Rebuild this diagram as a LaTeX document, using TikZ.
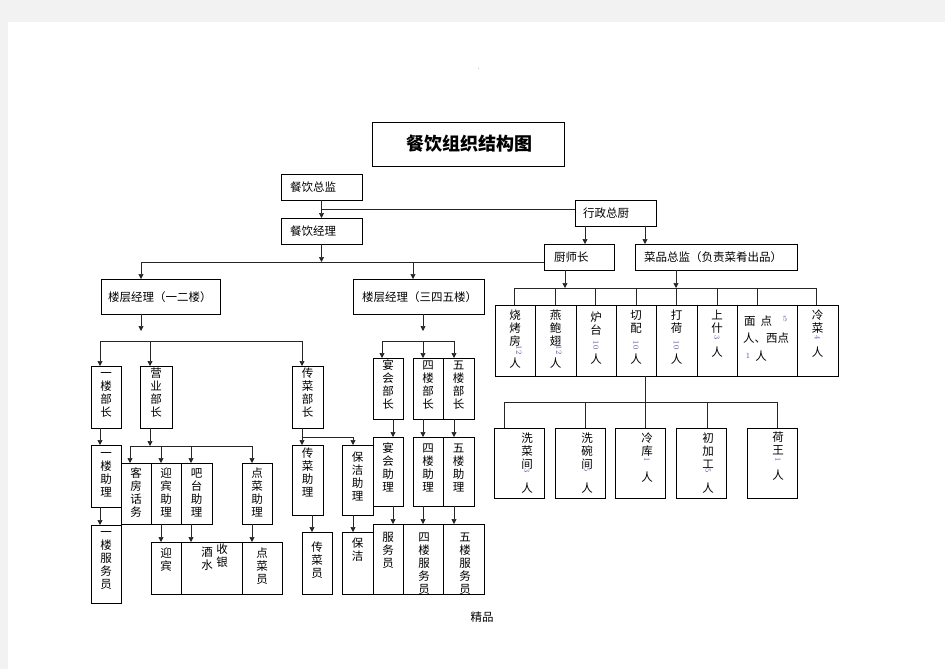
\documentclass[tikz,border=0pt]{standalone}
\usepackage{fontspec}
\newfontfamily\cjk{Noto Sans CJK SC}
\usetikzlibrary{arrows.meta}
\definecolor{pagebg}{HTML}{F2F2F2}
\definecolor{numc}{HTML}{5A50A8}
\newcommand\bx[5]{\pgfmathsetmacro\bxw{#4-#2}\pgfmathsetmacro\bxh{#5-#3}%
  \node[box,anchor=north west,minimum width=\bxw pt,minimum height=\bxh pt] (#1) at (#2,#3) {};}
\newcommand\vtx[4]{\node[vtext] (#1) at (#2,#3) {\rule{0pt}{10pt}#4};}
\newcommand\ren[3]{\node[ctext] (#1) at (#2,#3) {人};}
\newcommand\numx[4]{\node[numtext] (#1) at (#2,#3) {#4};}
\begin{document}
\begin{tikzpicture}[x=1pt,y=-1pt,
  box/.style={draw=black,line width=0.75pt,inner sep=0pt,outer sep=0pt,rectangle},
  ln/.style={line width=0.7pt,draw=black!85},
  arr/.style={line width=0.7pt,draw=black!85,-{Triangle[length=5pt,width=5pt]}},
  htext/.style={font=\cjk\fontsize{11.5}{13}\selectfont,inner sep=0pt,anchor=west},
  ctext/.style={font=\cjk\fontsize{11.5}{13}\selectfont,inner sep=0pt},
  vtext/.style={font=\cjk\fontsize{11.5}{13}\selectfont,inner sep=0pt,anchor=north,align=center},
  numtext/.style={font=\fontsize{8}{8}\selectfont,text=numc,inner sep=0pt,rotate=-90}]
\useasboundingbox (0,0) rectangle (945,669);
\fill[pagebg] (0,0) rectangle (945,669);
\fill[white] (8,22) rectangle (945,669);
\node[font=\fontsize{6}{6}\selectfont,inner sep=0pt] (dot) at (479,69) {.};

% ---------- boxes ----------
\bx{title}{372}{122}{564}{166}
\bx{zj}{281}{174}{362}{200}
\bx{jl}{281}{218}{362}{244}
\bx{xz}{575}{200}{656}{226}
\bx{csz}{544}{244}{614}{270}
\bx{cp}{635}{244}{797}{270}
\bx{lc12}{101}{279}{220}{314}
\bx{lc345}{353}{279}{484}{314}
\bx{b1}{91}{366}{121}{428}
\bx{yy}{140}{366}{172}{428}
\bx{cc}{292}{366}{323}{428}
\bx{z1}{91}{445}{121}{507}
\bx{f1}{91}{525}{121}{603}
\bx{kf}{121}{463}{151}{524}
\bx{yb}{151}{463}{181}{524}
\bx{bt}{181}{463}{212}{524}
\bx{dc}{242}{463}{272}{524}
\bx{ybb}{151}{542}{181}{594}
\bx{js}{181}{542}{242}{594}
\bx{dcy}{242}{542}{282}{594}
\bx{ccz}{292}{445}{323}{515}
\bx{ccy}{302}{532}{332}{594}
\bx{bjz}{342}{445}{373}{515}
\bx{bj}{342}{532}{373}{594}
\bx{yh}{373}{358}{403}{419}
\bx{s4}{413}{358}{443}{419}
\bx{s5}{443}{358}{474}{419}
\bx{yhz}{373}{437}{403}{506}
\bx{z4}{413}{437}{443}{506}
\bx{z5}{443}{437}{474}{506}
\bx{fw}{373}{524}{403}{594}
\bx{f4}{403}{524}{443}{594}
\bx{f5}{443}{524}{484}{594}
\bx{k1}{495}{305}{535}{376}
\bx{k2}{535}{305}{576}{376}
\bx{k3}{576}{305}{616}{376}
\bx{k4}{616}{305}{656}{376}
\bx{k5}{656}{305}{697}{376}
\bx{k6}{697}{305}{737}{376}
\bx{k7}{737}{305}{797}{376}
\bx{k8}{797}{305}{838}{376}
\bx{m1}{494}{428}{544}{498}
\bx{m2}{555}{428}{605}{498}
\bx{m3}{615}{428}{665}{498}
\bx{m4}{676}{428}{726}{498}
\bx{m5}{747}{428}{797}{498}

% ---------- horizontal labels ----------
\node[font=\cjk\bfseries\fontsize{18}{20}\selectfont,inner sep=0pt] (titlet) at (469,144) {餐饮组织结构图};
\node[htext] (zjt) at (290,187) {餐饮总监};
\node[htext] (jlt) at (290,231) {餐饮经理};
\node[htext] (xzt) at (583,213) {行政总厨};
\node[htext] (cszt) at (554,257) {厨师长};
\node[htext] (cpt) at (644,257) {菜品总监（负责菜肴出品）};
\node[htext] (lc12t) at (108,297) {楼层经理（一二楼）};
\node[htext] (lc345t) at (362,297) {楼层经理（三四五楼）};
\node[ctext] (foot) at (482,617) {精品};

% ---------- vertical labels ----------
\vtx{b1t}{106}{367}{一\\楼\\部\\长}
\vtx{yyt}{156}{367}{营\\业\\部\\长}
\vtx{cct}{307.5}{367}{传\\菜\\部\\长}
\vtx{z1t}{106}{447}{一\\楼\\助\\理}
\vtx{f1t}{106}{526}{一\\楼\\服\\务\\员}
\vtx{kft}{136}{467}{客\\房\\话\\务}
\vtx{ybt}{166}{467}{迎\\宾\\助\\理}
\vtx{btt}{196.5}{467}{吧\\台\\助\\理}
\vtx{dct}{257}{467}{点\\菜\\助\\理}
\vtx{ybbt}{166}{547}{迎\\宾}
\vtx{jst}{207}{546}{酒\\水}
\vtx{syt}{222}{543}{收\\银}
\vtx{dcyt}{262}{547}{点\\菜\\员}
\vtx{cczt}{307.5}{447}{传\\菜\\助\\理}
\vtx{ccyt}{317}{541}{传\\菜\\员}
\vtx{bjzt}{357.5}{451}{保\\洁\\助\\理}
\vtx{bjt}{357.5}{537}{保\\洁}
\vtx{yht}{388}{359}{宴\\会\\部\\长}
\vtx{s4t}{428}{359}{四\\楼\\部\\长}
\vtx{s5t}{458.5}{359}{五\\楼\\部\\长}
\vtx{yhzt}{388}{442}{宴\\会\\助\\理}
\vtx{z4t}{428}{442}{四\\楼\\助\\理}
\vtx{z5t}{458.5}{442}{五\\楼\\助\\理}
\vtx{fwt}{388}{531}{服\\务\\员}
\vtx{f4t}{424}{531}{四\\楼\\服\\务\\员}
\vtx{f5t}{465}{531}{五\\楼\\服\\务\\员}

% kitchen top
\vtx{k1t}{515}{309}{烧\\烤\\房}  \numx{k1n}{519}{350}{12} \ren{k1r}{515}{363}
\vtx{k2t}{555.5}{309}{燕\\鲍\\翅} \numx{k2n}{559}{350}{12} \ren{k2r}{555.5}{363}
\vtx{k3t}{596}{311}{炉\\台}      \numx{k3n}{596}{345}{10} \ren{k3r}{596}{359}
\vtx{k4t}{636}{309}{切\\配}      \numx{k4n}{636}{345}{10} \ren{k4r}{636}{359}
\vtx{k5t}{676.5}{309}{打\\荷}    \numx{k5n}{676.5}{345}{10} \ren{k5r}{676.5}{359}
\vtx{k6t}{717}{309}{上\\什}      \numx{k6n}{717}{338}{3} \ren{k6r}{717}{352}
\vtx{k8t}{817.5}{309}{冷\\菜}    \numx{k8n}{817.5}{338}{4} \ren{k8r}{817.5}{352}
\node[htext] (k7a) at (744,321) {面\hspace{5pt}点};
\node[font=\fontsize{8}{8}\selectfont,text=numc,inner sep=0pt] (k7n) at (785,319) {5};
\node[htext] (k7b) at (743,338) {人、西点};
\node[font=\fontsize{8}{8}\selectfont,text=numc,inner sep=0pt] (k7m) at (748,356) {1};
\node[ctext] (k7c) at (761,356) {人};

% kitchen bottom
\vtx{m1t}{527}{432}{洗\\菜\\间} \numx{m1n}{527}{471}{3} \ren{m1r}{527}{488}
\vtx{m2t}{587}{432}{洗\\碗\\间} \numx{m2n}{587}{470}{5} \ren{m2r}{587}{488}
\vtx{m3t}{647}{432}{冷\\库}     \numx{m3n}{647}{460}{1} \ren{m3r}{647}{477}
\vtx{m4t}{708}{432}{初\\加\\工} \numx{m4n}{708}{471}{5} \ren{m4r}{708}{488}
\vtx{m5t}{778}{431}{荷\\王}     \numx{m5n}{778}{460}{1} \ren{m5r}{778}{475}

% ---------- connectors ----------
% top management
\draw[arr] (zj) -- (jl);
\coordinate (j1) at (322,209);
\draw[ln] (xz.west |- j1) -- (j1);
\coordinate (xa) at (585,0);
\coordinate (xb) at (645,0);
\draw[arr] (xa |- xz.south) -- (xa |- csz.north);
\draw[arr] (xb |- xz.south) -- (xb |- cp.north);
\coordinate (busA) at (141,262);
\coordinate (busB) at (413,262);
\draw[arr] (jl.south) -- (jl.south |- busA);
\draw[ln] (busA) -- (csz.west |- busA);
\draw[arr] (busA) -- (busA |- lc12.north);
\draw[arr] (busB) -- (busB |- lc345.north);

% floors 1-2
\coordinate (l0) at (141,331);
\draw[arr] (l0 |- lc12.south) -- (l0);
\coordinate (l1) at (100,341);
\coordinate (l2) at (150,341);
\coordinate (l3) at (302,341);
\draw[ln] (l1) -- (l3);
\draw[arr] (l1) -- (l1 |- b1.north);
\draw[arr] (l2) -- (l2 |- yy.north);
\draw[arr] (l3) -- (l3 |- cc.north);
\draw[arr] (l1 |- b1.south) -- (l1 |- z1.north);
\draw[arr] (l1 |- z1.south) -- (l1 |- f1.north);
% sales
\coordinate (y1) at (130,446);
\coordinate (y2) at (161,446);
\coordinate (y3) at (191,446);
\coordinate (y4) at (252,446);
\draw[arr] (l2 |- yy.south) -- (l2 |- y1);
\draw[ln] (y1) -- (y4);
\draw[arr] (y1) -- (y1 |- kf.north);
\draw[arr] (y2) -- (y2 |- yb.north);
\draw[arr] (y3) -- (y3 |- bt.north);
\draw[arr] (y4) -- (y4 |- dc.north);
\draw[arr] (y2 |- yb.south) -- (y2 |- ybb.north);
\draw[arr] (y3 |- bt.south) -- (y3 |- js.north);
\draw[arr] (y4 |- dc.south) -- (y4 |- dcy.north);
% serving
\coordinate (c1) at (302,437);
\coordinate (c2) at (353,437);
\draw[arr] (l3 |- cc.south) -- (l3 |- ccz.north);
\draw[ln] (c1) -- (c2);
\draw[arr] (c2) -- (c2 |- bjz.north);
\coordinate (c3) at (312,0);
\draw[arr] (c3 |- ccz.south) -- (c3 |- ccy.north);
\draw[arr] (c2 |- bjz.south) -- (c2 |- bj.north);

% floors 3-5
\coordinate (r0) at (423,331);
\draw[arr] (r0 |- lc345.south) -- (r0);
\coordinate (r1) at (382,341);
\coordinate (r2) at (423,341);
\coordinate (r3) at (454,341);
\draw[ln] (r1) -- (r3);
\draw[arr] (r1) -- (r1 |- yh.north);
\draw[arr] (r2) -- (r2 |- s4.north);
\draw[arr] (r3) -- (r3 |- s5.north);
\coordinate (q1) at (393,0);
\draw[arr] (q1 |- yh.south) -- (q1 |- yhz.north);
\draw[arr] (r2 |- s4.south) -- (r2 |- z4.north);
\draw[arr] (r3 |- s5.south) -- (r3 |- z5.north);
\draw[arr] (q1 |- yhz.south) -- (q1 |- fw.north);
\draw[arr] (r2 |- z4.south) -- (r2 |- f4.north);
\draw[arr] (r3 |- z5.south) -- (r3 |- f5.north);

% kitchen
\coordinate (kb) at (0,288);
\coordinate (ka) at (565,0);
\coordinate (kc) at (676,0);
\draw[arr] (ka |- csz.south) -- (ka |- kb);
\draw[arr] (kc |- cp.south) -- (kc |- kb);
\coordinate (t1) at (514,288);
\coordinate (t8) at (816,288);
\draw[ln] (t1) -- (t8);
\foreach \tx/\bn in {514/k1,555/k2,595/k3,636/k4,676/k5,717/k6,757/k7,816/k8}
  \draw[ln] (\tx,288) -- (\tx,0 |- \bn.north);
\coordinate (v0) at (645,0);
\draw[ln] (v0 |- k4.south) -- (v0 |- m3.north);
\coordinate (u1) at (504,402);
\coordinate (u5) at (777,402);
\draw[ln] (u1) -- (u5);
\foreach \tx/\bn in {504/m1,585/m2,707/m4,777/m5}
  \draw[ln] (\tx,402) -- (\tx,0 |- \bn.north);
\end{tikzpicture}
\end{document}
